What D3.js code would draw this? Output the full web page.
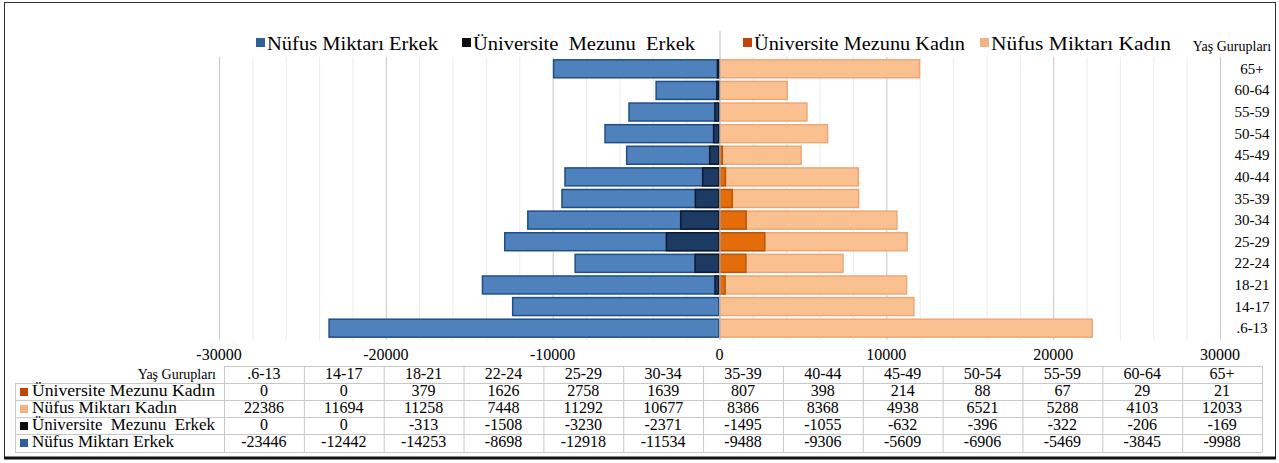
<!DOCTYPE html>
<html>
<head>
<meta charset="utf-8">
<script src="https://cdn.jsdelivr.net/npm/d3@7"></script>
<style>
  body { margin: 0; background: #fff; }
  text { white-space: pre; }
</style>
</head>
<body>
<div id="chart"></div>
<script>
// age groups, bottom to top of the pyramid
var ageGroups = ['.6-13', '14-17', '18-21', '22-24', '25-29', '30-34', '35-39', '40-44', '45-49', '50-54', '55-59', '60-64', '65+']
var uniKadin = [0, 0, 379, 1626, 2758, 1639, 807, 398, 214, 88, 67, 29, 21]
var nufusKadin = [22386, 11694, 11258, 7448, 11292, 10677, 8386, 8368, 4938, 6521, 5288, 4103, 12033]
var uniErkek = [0, 0, -313, -1508, -3230, -2371, -1495, -1055, -632, -396, -322, -206, -169]
var nufusErkek = [-23446, -12442, -14253, -8698, -12918, -11534, -9488, -9306, -5609, -6906, -5469, -3845, -9988]
var xTicks = [-30000, -20000, -10000, 0, 10000, 20000, 30000]

var seriesNames = ['Nüfus Miktarı Erkek', 'Üniversite  Mezunu  Erkek', 'Üniversite Mezunu Kadın', 'Nüfus Miktarı Kadın']

const width = 1279
const height = 463
const serif = '"Liberation Serif", "DejaVu Serif", "Times New Roman", Times, serif'

var svg = d3.select('#chart').append('svg')
  .attr('width', width)
  .attr('height', height)
  .style('font-family', serif)
  .style('display', 'block')

// frame around the whole picture
svg.append('rect')
  .attr('x', 4.5).attr('y', 2.5)
  .attr('width', 1271).attr('height', 455)
  .attr('fill', 'none')
  .attr('stroke', '#333')
  .attr('stroke-width', 1)
svg.append('line')
  .attr('x1', 4).attr('x2', 1276)
  .attr('y1', 458).attr('y2', 458)
  .attr('stroke', '#111').attr('stroke-width', 3)

var x = d3.scaleLinear().domain([-30000, 30000]).range([219, 1220])
var y = d3.scaleBand().domain(ageGroups.slice().reverse()).range([58, 339]).paddingInner(0.1).paddingOuter(0.05)

// gridlines: light every 2000, darker every 10000
var grid = svg.append('g')
grid.selectAll('line.minor')
  .data(d3.range(-30000, 30001, 2000))
  .enter().append('line')
  .attr('x1', d => x(d) + 0.5).attr('x2', d => x(d) + 0.5)
  .attr('y1', 57).attr('y2', 340)
  .attr('stroke', d => (d % 10000 == 0 ? '#c8c8c8' : '#ebebeb'))
  .attr('stroke-width', 1)

// population bars first, graduates overlap them
function drawBars(values, fill, stroke) {
  svg.append('g').selectAll('rect')
    .data(values)
    .enter().append('rect')
    .attr('x', d => Math.min(x(d), x(0)) + 0.75)
    .attr('y', (d, i) => y(ageGroups[i]) + 0.75)
    .attr('width', d => Math.max(0, Math.abs(x(d) - x(0)) - 1.5))
    .attr('height', y.bandwidth() - 1.5)
    .attr('fill', fill)
    .attr('stroke', stroke)
    .attr('stroke-width', 1.5)
}
drawBars(nufusErkek, '#4f81bd', '#1f4e85')
drawBars(nufusKadin, '#fac090', '#eaa877')
drawBars(uniErkek, '#1d3a63', '#0b1a30')
drawBars(uniKadin, '#e46c0a', '#b85509')

// vertical axis line at zero
svg.append('line')
  .attr('x1', x(0) + 0.5).attr('x2', x(0) + 0.5)
  .attr('y1', 31).attr('y2', 340)
  .attr('stroke', '#bfbfbf').attr('stroke-width', 1)

// category labels on the right
svg.append('text')
  .attr('x', 1232).attr('y', 51)
  .attr('text-anchor', 'middle')
  .attr('font-size', 14)
  .text('Yaş Gurupları')
svg.append('g').selectAll('text')
  .data(ageGroups)
  .enter().append('text')
  .attr('x', 1252)
  .attr('y', d => y(d) + y.bandwidth() / 2 + 5)
  .attr('text-anchor', 'middle')
  .attr('font-size', 15)
  .text(d => d)

// x tick labels
svg.append('g').selectAll('text')
  .data(xTicks)
  .enter().append('text')
  .attr('x', d => x(d))
  .attr('y', 360)
  .attr('text-anchor', 'middle')
  .attr('font-size', 16)
  .text(d => d)

// legend (text stretched to the widths seen in the picture)
var legendColors = ['#2f5f98', '#0d0d0d', '#c0440a', '#f4b183']
var legendX = [256, 462, 743, 980]
var legendLen = [171, 222, 211, 180]
var legend = svg.append('g')
seriesNames.forEach(function (name, i) {
  legend.append('rect')
    .attr('x', legendX[i]).attr('y', 38)
    .attr('width', 9).attr('height', 9)
    .attr('fill', legendColors[i])
  legend.append('text')
    .attr('x', legendX[i] + 11).attr('y', 50)
    .attr('font-size', 19)
    .attr('textLength', legendLen[i])
    .attr('lengthAdjust', 'spacingAndGlyphs')
    .text(name)
})

// data table under the chart
var col = d3.scaleBand().domain(ageGroups).range([224, 1262])
var rowY = [366, 383, 400, 417, 434, 452]
var tableRows = [
  { name: 'Üniversite Mezunu Kadın', color: '#c0440a', values: uniKadin, len: 183 },
  { name: 'Nüfus Miktarı Kadın', color: '#f4b183', values: nufusKadin, len: 145 },
  { name: 'Üniversite  Mezunu  Erkek', color: '#0d0d0d', values: uniErkek, len: 183 },
  { name: 'Nüfus Miktarı Erkek', color: '#2f5f98', values: nufusErkek, len: 142 }
]
var table = svg.append('g')
var lineColor = '#c8c8c8'

// horizontal lines
rowY.forEach(function (yy, i) {
  table.append('line')
    .attr('x1', i == 0 ? col.range()[0] : 15).attr('x2', col.range()[1])
    .attr('y1', yy + 0.5).attr('y2', yy + 0.5)
    .attr('stroke', lineColor)
})
// vertical lines
table.append('line')
  .attr('x1', 15.5).attr('x2', 15.5)
  .attr('y1', rowY[1]).attr('y2', rowY[5])
  .attr('stroke', lineColor)
ageGroups.concat(['end']).forEach(function (g, i) {
  var xx = i < ageGroups.length ? col(g) : col.range()[1]
  table.append('line')
    .attr('x1', xx + 0.5).attr('x2', xx + 0.5)
    .attr('y1', rowY[0]).attr('y2', rowY[5])
    .attr('stroke', lineColor)
})

// header row
table.append('text')
  .attr('x', 216).attr('y', rowY[0] + 13)
  .attr('text-anchor', 'end')
  .attr('font-size', 14)
  .text('Yaş Gurupları')
table.selectAll('text.head')
  .data(ageGroups)
  .enter().append('text')
  .attr('x', d => col(d) + col.bandwidth() / 2)
  .attr('y', rowY[0] + 13)
  .attr('text-anchor', 'middle')
  .attr('font-size', 16)
  .text(d => d)

tableRows.forEach(function (row, r) {
  var top = rowY[r + 1]
  table.append('rect')
    .attr('x', 20).attr('y', top + 5)
    .attr('width', 8).attr('height', 8)
    .attr('fill', row.color)
  table.append('text')
    .attr('x', 32).attr('y', top + 13)
    .attr('font-size', 16)
    .attr('textLength', row.len)
    .attr('lengthAdjust', 'spacingAndGlyphs')
    .text(row.name)
  row.values.forEach(function (v, i) {
    table.append('text')
      .attr('x', col(ageGroups[i]) + col.bandwidth() / 2)
      .attr('y', top + 13)
      .attr('text-anchor', 'middle')
      .attr('font-size', 16)
      .text(v)
  })
})
</script>
</body>
</html>
